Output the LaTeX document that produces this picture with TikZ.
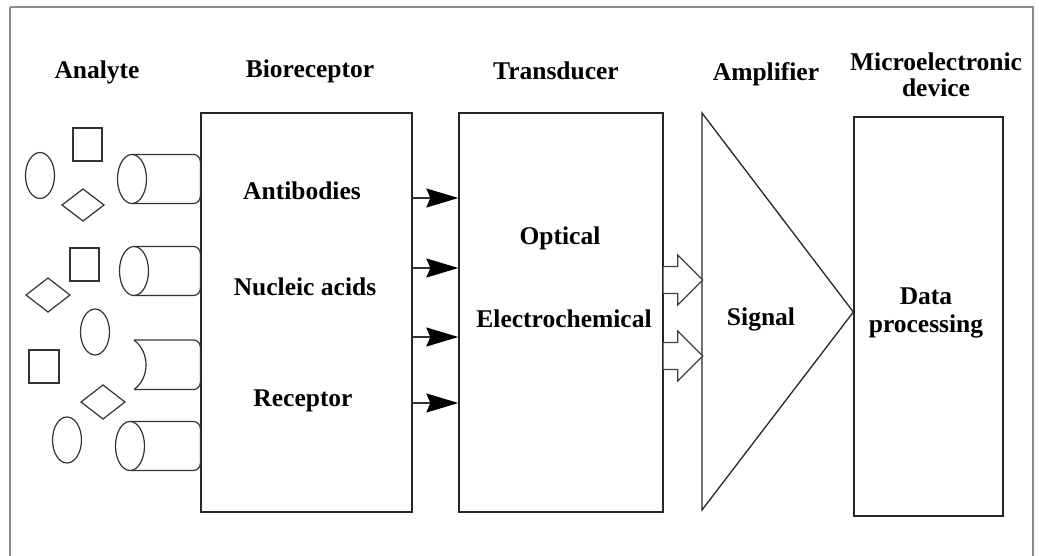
\documentclass[tikz,border=0pt]{standalone}
\usepackage{fontspec}
\setmainfont{Liberation Serif}
\usetikzlibrary{arrows.meta,calc}
\tikzset{
  lbl/.style={font=\fontsize{25.5}{26}\selectfont\bfseries, inner sep=0pt, align=center, text=black},
  blk/.style={draw=black!85, line width=1.3pt, rectangle, inner sep=0pt},
  shp/.style={draw=black!80, line width=1.2pt},
  sarrow/.style={draw=black!80, line width=1.3pt, -{Stealth[length=32pt,width=19pt,inset=4pt,fill=black,color=black]}},
  harrow/.style={draw=black!75, line width=1.2pt, fill=white, line join=miter},
}
\begin{document}
\begin{tikzpicture}[x=1pt,y=-1pt]
\useasboundingbox (0,0) rectangle (1039,556);
\fill[white] (0,0) rectangle (1039,556);
% frame
\draw[black!45, line width=1.2pt] (10,7) -- (1033,7) -- (1033,600);
\draw[black!45, line width=1.2pt] (10,7) -- (10,600);

% titles
\node[lbl] (tAn) at (97,72) {Analyte};
\node[lbl] (tBio) at (310,71) {Bioreceptor};
\node[lbl] (tTr) at (556,71) {Transducer};
\node[lbl] (tAmp) at (766,74) {Amplifier};
\node[lbl] (tMic) at (936,75) {Microelectronic\\device};

% boxes
\node[blk, minimum width=211pt, minimum height=399pt] (bio) at (306.5,312.5) {};
\node[blk, minimum width=204pt, minimum height=399pt] (trans) at (561,312.5) {};
\node[blk, minimum width=149pt, minimum height=399pt] (mic) at (928.5,316.5) {};

% amplifier triangle
\coordinate (ampTop) at (702,113);
\coordinate (ampBot) at (702,510);
\coordinate (ampTip) at (mic.west |- 0,312);
\draw[black!85, line width=1.3pt, line join=miter] (ampTop) -- (ampTip) -- (ampBot) -- cycle;

% inner labels
\node[lbl] (lAnt) at (302,191) {Antibodies};
\node[lbl] (lNuc) at (305,287) {Nucleic acids};
\node[lbl] (lRec) at (303,401) {Receptor};
\node[lbl] (lOpt) at (560,238) {Optical};
\node[lbl] (lEle) at (564,319) {Electrochemical};
\node[lbl] (lSig) at (761,319) {Signal};
\node[lbl] (lDat) at (926,313) {Data\\[2pt]processing};

% black arrows
\foreach \yy/\nm in {198/a,268/b,337/c,403/d}{
  \coordinate (s\nm) at (bio.east |- 0,\yy);
  \coordinate (e\nm) at (trans.west |- 0,\yy);
  \draw[sarrow] (s\nm) -- (e\nm);
}

% hollow arrows
\foreach \yy/\nm in {280/a,356/b}{
  \coordinate (h\nm) at (trans.east |- 0,\yy);
  \draw[harrow] ($(h\nm)+(0,-13.5)$) -- ($(h\nm)+(14,-13.5)$) -- ($(h\nm)+(14,-25)$)
     -- ($(h\nm)+(39,0)$) -- ($(h\nm)+(14,25)$) -- ($(h\nm)+(14,13.5)$) -- ($(h\nm)+(0,13.5)$);
}

% analyte shapes
% ellipses
\draw[shp] (40,175.5) ellipse [x radius=14.5pt, y radius=23pt];
\draw[shp] (95,332) ellipse [x radius=14.5pt, y radius=23pt];
\draw[shp] (67,440) ellipse [x radius=14.5pt, y radius=23pt];
% squares
\draw[shp] (73,128) rectangle (102,161);
\draw[shp] (70,248) rectangle (99,281);
\draw[shp] (29,350) rectangle (59,383);
% diamonds
\draw[shp] (83,189) -- (104,205) -- (83,221) -- (62,205) -- cycle;
\draw[shp] (48,278) -- (70,295) -- (48,312) -- (26,295) -- cycle;
\draw[shp] (103,385) -- (125,402) -- (103,419) -- (81,402) -- cycle;
% cylinders
\foreach \cx/\cy in {132/179, 134/271, 130/446}{
  \draw[shp, rounded corners=7pt] (\cx,\cy-24.5) -- (bio.west |- 0,\cy-24.5) -- (bio.west |- 0,\cy+24.5) -- (\cx,\cy+24.5);
  \draw[shp] (\cx,\cy) ellipse [x radius=14.5pt, y radius=24.5pt];
}
\draw[shp, rounded corners=7pt] (134,340) -- (bio.west |- 0,340) -- (bio.west |- 0,389.5) -- (134,389.5);
\draw[shp] (134,340) .. controls (150,352) and (150,378) .. (134,389.5);
\end{tikzpicture}
\end{document}
